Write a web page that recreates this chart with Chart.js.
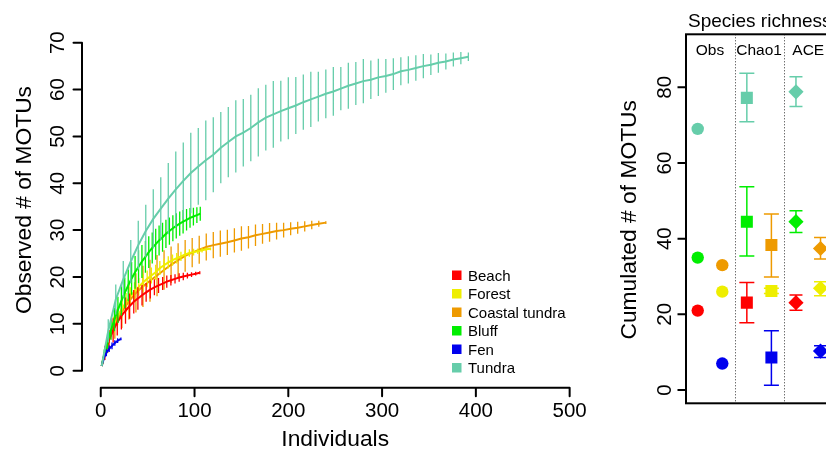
<!DOCTYPE html>
<html>
<head>
<meta charset="utf-8">
<title>MOTU rarefaction and richness</title>
<script src="https://cdn.jsdelivr.net/npm/chart.js@4"></script>
<style>
  html, body { margin: 0; padding: 0; background: #fff; overflow: hidden; }
  #wrap { position: relative; width: 826px; height: 450px; overflow: hidden; }
  #wrap canvas { position: absolute; top: 0; left: 0; }
</style>
</head>
<body>
<div id="wrap">
  <canvas id="rarefy" width="826" height="450"></canvas>
  <canvas id="richness" width="1000" height="450"></canvas>
</div>
<script>
// ---- habitats (legend order) ----
const habitats = ['Beach', 'Forest', 'Coastal tundra', 'Bluff', 'Fen', 'Tundra'];
const habitatColors = ['#FF0000', '#EEEE00', '#EE9A00', '#00EE00', '#0000EE', '#66CDAA'];
// which curve is painted first (0) ... last (5)
const drawRank = [2, 1, 0, 3, 4, 5];

// ---- rarefaction curves: individuals, mean MOTUs, half length of the bar ----
const beachInd = [1, 4.4, 8.8, 13.2, 17.6, 22, 26.4, 30.8, 35.2, 39.6, 44, 48.4, 52.8, 57.2, 61.6, 66, 70.4, 74.8, 79.2, 83.6, 88, 92.4, 96.8, 101.2, 105.6];
const beachMean = [1, 3.8, 6.5, 8.6, 10.3, 11.7, 12.8, 13.8, 14.7, 15.4, 16.1, 16.7, 17.3, 17.8, 18.2, 18.6, 19.0, 19.3, 19.6, 19.9, 20.1, 20.3, 20.5, 20.7, 20.9];
const beachCi = [0, 1.5, 2.2, 2.6, 2.8, 2.9, 2.8, 2.7, 2.5, 2.4, 2.2, 2.0, 1.9, 1.7, 1.6, 1.4, 1.3, 1.1, 1.0, 0.9, 0.8, 0.6, 0.5, 0.4, 0.3];

const forestInd = [1, 4.5, 9, 13.5, 18, 22.5, 27, 31.5, 36, 40.5, 45, 49.5, 54, 58.5, 63, 67.5, 72, 76.5, 81, 85.5, 90, 94.5, 99, 103.5, 108, 112.5, 117];
const forestMean = [1, 4.0, 7.3, 9.8, 11.6, 13.2, 14.6, 15.8, 16.9, 17.9, 18.8, 19.6, 20.3, 21.0, 21.9, 22.5, 23.1, 23.6, 24.0, 24.4, 24.8, 25.1, 25.3, 25.5, 25.7, 25.9, 26.0];
const forestCi = [0, 1.0, 1.4, 1.7, 1.9, 2.0, 2.0, 2.0, 2.0, 1.9, 1.9, 1.8, 1.7, 1.6, 1.5, 1.4, 1.3, 1.2, 1.1, 1.0, 0.9, 0.8, 0.7, 0.6, 0.5, 0.4, 0.3];

const coastalInd = [1, 7.5, 15, 22.5, 30, 37.5, 45, 52.5, 60, 67.5, 75, 82.5, 90, 97.5, 105, 112.5, 120, 127.5, 135, 142.5, 150, 157.5, 165, 172.5, 180, 187.5, 195, 202.5, 210, 217.5, 225, 232.5, 240];
const coastalMean = [1, 6.0, 9.8, 12.6, 14.8, 16.6, 18.0, 19.2, 20.3, 21.5, 22.6, 23.6, 24.5, 25.2, 25.8, 26.4, 26.8, 27.1, 27.4, 27.8, 28.2, 28.5, 28.9, 29.2, 29.5, 29.8, 30.0, 30.3, 30.5, 30.8, 31.1, 31.35, 31.6];
const coastalCi = [0, 2.2, 3.0, 3.5, 3.9, 4.2, 4.4, 4.5, 4.4, 4.2, 3.9, 3.6, 3.4, 3.1, 3.0, 2.9, 2.8, 2.8, 2.7, 2.6, 2.6, 2.4, 2.3, 2.1, 2.0, 1.8, 1.6, 1.4, 1.3, 1.1, 0.9, 0.65, 0.3];

const bluffInd = [1, 3.7, 7.3, 11, 14.6, 18.3, 22, 25.6, 29.3, 32.9, 36.6, 40.3, 43.9, 47.6, 51.2, 54.9, 58.6, 62.2, 65.9, 69.5, 73.2, 76.9, 80.5, 84.2, 87.8, 91.5, 95.2, 98.8, 102.5, 106.1];
const bluffMean = [1, 3.5, 6.2, 8.7, 10.9, 13.0, 14.9, 16.6, 18.2, 19.7, 21.0, 22.2, 23.3, 24.3, 25.3, 26.2, 27.0, 27.8, 28.5, 29.2, 29.8, 30.4, 30.9, 31.4, 31.8, 32.2, 32.6, 32.9, 33.2, 33.5];
const bluffCi = [0, 1.0, 1.6, 2.1, 2.5, 2.8, 3.1, 3.3, 3.4, 3.5, 3.5, 3.5, 3.5, 3.4, 3.4, 3.3, 3.3, 3.2, 3.1, 3.0, 2.9, 2.8, 2.7, 2.6, 2.5, 2.3, 2.1, 1.9, 1.7, 1.5];

const fenInd = [1, 3, 6, 9, 12, 15, 18, 21.5];
const fenMean = [1, 2.6, 3.8, 4.7, 5.3, 5.9, 6.4, 6.8];
const fenCi = [0, 0.6, 0.7, 0.7, 0.7, 0.6, 0.5, 0.3];

const tundraInd = [1, 8, 16, 24, 32, 40, 48, 56, 64, 72, 80, 88, 96, 104, 112, 120, 128, 136, 144, 152, 160, 168, 176, 184, 192, 200, 208, 216, 224, 232, 240, 248, 256, 264, 272, 280, 288, 296, 304, 312, 320, 328, 336, 344, 352, 360, 368, 376, 384, 392];
const tundraMean = [1, 8.5, 15.2, 19.5, 23.3, 26.8, 29.8, 32.4, 34.6, 36.7, 38.7, 40.5, 42.2, 43.6, 44.9, 46.1, 47.6, 48.8, 50.0, 50.8, 51.8, 53.0, 54.0, 54.7, 55.4, 56.0, 56.6, 57.3, 57.9, 58.5, 59.1, 59.6, 60.2, 60.8, 61.3, 61.8, 62.1, 62.6, 62.9, 63.3, 63.9, 64.2, 64.6, 65.0, 65.3, 65.7, 66.0, 66.4, 66.7, 67.0];
const tundraCi = [0, 2.5, 3.2, 3.9, 4.6, 5.2, 5.6, 6.3, 6.7, 7.6, 8.1, 8.2, 8.6, 8.2, 8.5, 8.0, 7.6, 7.5, 7.7, 7.2, 7.1, 7.3, 7.0, 7.1, 6.5, 6.6, 6.1, 5.9, 5.9, 5.3, 5.2, 5.2, 4.6, 4.9, 4.6, 4.7, 4.1, 4.0, 3.6, 3.4, 3.0, 2.9, 2.7, 2.6, 2.2, 2.1, 1.7, 1.5, 1.3, 0.9];

const xTicks = [0, 100, 200, 300, 400, 500];
const yTicks = [0, 10, 20, 30, 40, 50, 60, 70];

// ---- richness estimates (habitat order as above) ----
const estimators = ['Obs', 'Chao1', 'ACE'];
const habitatColumn = [0, 1, 1, 0, 1, 0];
const obsRichness = [21, 26, 33, 35, 7, 69];
const chao1Mean = [23.1, 26.2, 38.3, 44.5, 8.6, 77.2];
const chao1Lo = [17.8, 25.5, 29.9, 35.4, 1.3, 70.9];
const chao1Hi = [28.4, 26.9, 46.5, 53.7, 15.7, 83.7];
const aceMean = [23.1, 26.9, 37.4, 44.5, 10.3, 78.8];
const aceLo = [21.1, 24.9, 34.6, 41.6, 8.6, 74.9];
const aceHi = [25.1, 28.6, 40.3, 47.4, 11.7, 82.8];
const richTicks = [0, 20, 40, 60, 80];

const FONT = "'Liberation Sans', Arial, Helvetica, sans-serif";

const curves = [
    {ind: beachInd, mean: beachMean, ci: beachCi},
    {ind: forestInd, mean: forestMean, ci: forestCi},
    {ind: coastalInd, mean: coastalMean, ci: coastalCi},
    {ind: bluffInd, mean: bluffMean, ci: bluffCi},
    {ind: fenInd, mean: fenMean, ci: fenCi},
    {ind: tundraInd, mean: tundraMean, ci: tundraCi}
];

function rotatedText(ctx, text, x, y) {
    ctx.save();
    ctx.translate(x, y);
    ctx.rotate(-Math.PI / 2);
    ctx.fillText(text, 0, 0);
    ctx.restore();
}

// vertical bars drawn just before each curve, so later curves sit on top
const curveBars = {
    id: 'curveBars',
    beforeDatasetDraw(chart, args) {
        const c = curves[args.index];
        const ctx = chart.ctx, xs = chart.scales.x, ys = chart.scales.y;
        ctx.save();
        ctx.strokeStyle = habitatColors[args.index];
        ctx.lineWidth = 1.3;
        ctx.beginPath();
        c.ind.forEach((x, j) => {
            if (!c.ci[j]) return;
            const px = xs.getPixelForValue(x);
            ctx.moveTo(px, ys.getPixelForValue(c.mean[j] - c.ci[j]));
            ctx.lineTo(px, ys.getPixelForValue(c.mean[j] + c.ci[j]));
        });
        ctx.stroke();
        ctx.restore();
    }
};

const rarefyAxes = {
    id: 'rarefyAxes',
    afterDraw(chart) {
        const ctx = chart.ctx, xs = chart.scales.x, ys = chart.scales.y, ca = chart.chartArea;
        ctx.save();
        ctx.strokeStyle = '#000';
        ctx.lineWidth = 2;
        ctx.lineCap = 'round';
        ctx.beginPath();
        ctx.moveTo(xs.getPixelForValue(xTicks[0]), ca.bottom);
        ctx.lineTo(xs.getPixelForValue(xTicks[xTicks.length - 1]), ca.bottom);
        xTicks.forEach(t => {
            const p = xs.getPixelForValue(t);
            ctx.moveTo(p, ca.bottom);
            ctx.lineTo(p, ca.bottom + 8.5);
        });
        ctx.moveTo(ca.left, ys.getPixelForValue(yTicks[0]));
        ctx.lineTo(ca.left, ys.getPixelForValue(yTicks[yTicks.length - 1]));
        yTicks.forEach(t => {
            const p = ys.getPixelForValue(t);
            ctx.moveTo(ca.left, p);
            ctx.lineTo(ca.left - 8.5, p);
        });
        ctx.stroke();

        ctx.fillStyle = '#000';
        ctx.font = '20.5px ' + FONT;
        ctx.textAlign = 'center';
        ctx.textBaseline = 'alphabetic';
        xTicks.forEach(t => ctx.fillText(String(t), xs.getPixelForValue(t), 416.5));
        yTicks.forEach(t => rotatedText(ctx, String(t), 63.5, ys.getPixelForValue(t)));

        ctx.font = '22.8px ' + FONT;
        ctx.fillText('Individuals', (ca.left + ca.right) / 2, 446);
        rotatedText(ctx, 'Observed # of MOTUs', 30.5, 200);

        // legend
        ctx.font = '15px ' + FONT;
        ctx.textAlign = 'left';
        habitats.forEach((h, i) => {
            const cy = 275 + i * 18.5;
            ctx.fillStyle = habitatColors[i];
            ctx.fillRect(452, cy - 4.5, 9.5, 9.5);
            ctx.fillStyle = '#000';
            ctx.fillText(h, 468, cy + 5.5);
        });
        ctx.restore();
    }
};

new Chart(document.getElementById('rarefy'), {
    type: 'line',
    data: {
        datasets: curves.map((c, i) => ({
            label: habitats[i],
            data: c.ind.map((x, j) => ({x: x, y: c.mean[j]})),
            borderColor: habitatColors[i],
            borderWidth: 2,
            pointRadius: 0,
            fill: false,
            tension: 0,
            order: curves.length - 1 - drawRank[i]
        }))
    },
    options: {
        responsive: false,
        animation: false,
        events: [],
        layout: {padding: {left: 82, right: 237.6, top: 33, bottom: 62.3}},
        scales: {
            x: {type: 'linear', min: -20, max: 520, display: false},
            y: {type: 'linear', min: -3.63, max: 72.07, display: false}
        },
        plugins: {legend: {display: false}, tooltip: {enabled: false}}
    },
    plugins: [curveBars, rarefyAxes]
});

// ---- right panel ----
const richBars = {
    id: 'richBars',
    beforeDatasetsDraw(chart) {
        const ctx = chart.ctx, xs = chart.scales.x, ys = chart.scales.y;
        const sets = [[1, chao1Lo, chao1Hi, 7.5], [2, aceLo, aceHi, 6.5]];
        ctx.save();
        ctx.lineWidth = 1.5;
        sets.forEach(([e, lo, hi, cap]) => {
            habitats.forEach((h, i) => {
                const px = xs.getPixelForValue(1 + 2 * e + habitatColumn[i]);
                const p0 = ys.getPixelForValue(lo[i]), p1 = ys.getPixelForValue(hi[i]);
                ctx.strokeStyle = habitatColors[i];
                ctx.beginPath();
                ctx.moveTo(px, p0); ctx.lineTo(px, p1);
                ctx.moveTo(px - cap, p0); ctx.lineTo(px + cap, p0);
                ctx.moveTo(px - cap, p1); ctx.lineTo(px + cap, p1);
                ctx.stroke();
            });
        });
        ctx.restore();
    }
};

const richFrame = {
    id: 'richFrame',
    afterDraw(chart) {
        const ctx = chart.ctx, xs = chart.scales.x, ys = chart.scales.y, ca = chart.chartArea;
        ctx.save();
        // dotted separators between estimators
        ctx.strokeStyle = '#333';
        ctx.lineWidth = 1;
        ctx.setLineDash([1, 2]);
        ctx.beginPath();
        estimators.forEach((e, k) => {
            const px = Math.round(xs.getPixelForValue(2.5 + 2 * k)) + 0.5;
            ctx.moveTo(px, ca.top);
            ctx.lineTo(px, ca.bottom);
        });
        ctx.stroke();
        ctx.setLineDash([]);

        ctx.strokeStyle = '#000';
        ctx.lineWidth = 2;
        ctx.strokeRect(ca.left, ca.top, ca.right - ca.left, ca.bottom - ca.top);
        ctx.beginPath();
        richTicks.forEach(t => {
            const p = ys.getPixelForValue(t);
            ctx.moveTo(ca.left, p);
            ctx.lineTo(ca.left - 8.5, p);
        });
        ctx.stroke();

        ctx.fillStyle = '#000';
        ctx.textAlign = 'center';
        ctx.font = '20.5px ' + FONT;
        richTicks.forEach(t => rotatedText(ctx, String(t), 671, ys.getPixelForValue(t)));
        ctx.font = '22.8px ' + FONT;
        rotatedText(ctx, 'Cumulated # of MOTUs', 635.5, (ca.top + ca.bottom) / 2 + 1);

        ctx.font = '15.5px ' + FONT;
        estimators.forEach((e, k) => ctx.fillText(e, xs.getPixelForValue(1.5 + 2 * k), 55));

        ctx.font = '19px ' + FONT;
        ctx.textAlign = 'left';
        ctx.fillText('Species richness', 688, 26.5);
        ctx.restore();
    }
};

const markerSets = [
    {label: 'Obs', values: obsRichness, style: 'circle', radius: 6.2},
    {label: 'Chao1', values: chao1Mean, style: 'rect', radius: 8.5},
    {label: 'ACE', values: aceMean, style: 'rectRot', radius: 7.6}
];

new Chart(document.getElementById('richness'), {
    type: 'scatter',
    data: {
        datasets: markerSets.map((m, e) => ({
            label: m.label,
            data: m.values.map((v, i) => ({x: 1 + 2 * e + habitatColumn[i], y: v})),
            pointStyle: m.style,
            pointRadius: m.radius,
            pointBackgroundColor: habitatColors,
            pointBorderColor: habitatColors,
            pointBorderWidth: 0,
            showLine: false
        }))
    },
    options: {
        responsive: false,
        animation: false,
        events: [],
        layout: {padding: {left: 686, right: 10, top: 34.3, bottom: 46.7}},
        scales: {
            x: {type: 'linear', min: 0.523, max: 12.9, display: false},
            y: {type: 'linear', min: -3.5, max: 94, display: false}
        },
        plugins: {legend: {display: false}, tooltip: {enabled: false}}
    },
    plugins: [richBars, richFrame]
});
</script>
</body>
</html>
